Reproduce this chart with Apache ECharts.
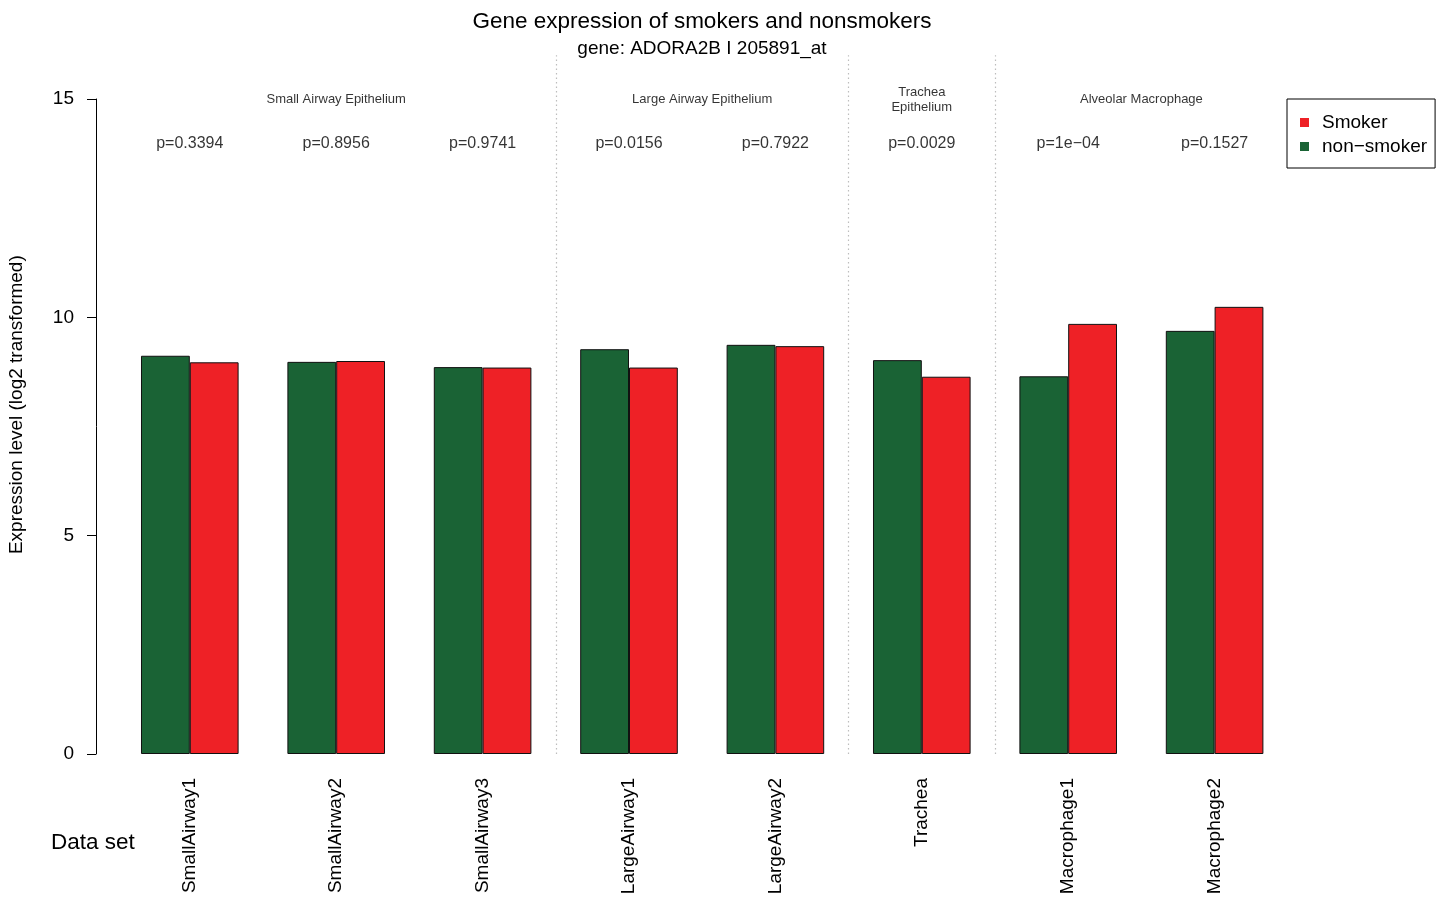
<!DOCTYPE html>
<html>
<head>
<meta charset="utf-8">
<title>Gene expression of smokers and nonsmokers</title>
<script src="https://cdn.jsdelivr.net/npm/echarts@6/dist/echarts.min.js"></script>
<style>
  html, body { margin: 0; padding: 0; background: #fff; }
  #chart { width: 1443px; height: 897px; }
</style>
</head>
<body>
<div id="chart"></div>
<script>
// ---- data ----
const datasets = ['SmallAirway1', 'SmallAirway2', 'SmallAirway3', 'LargeAirway1',
                  'LargeAirway2', 'Trachea', 'Macrophage1', 'Macrophage2'];
const nonSmoker = [9.12, 8.98, 8.86, 9.27, 9.37, 9.02, 8.65, 9.69];
const smoker    = [8.97, 9.00, 8.85, 8.85, 9.34, 8.64, 9.85, 10.24];
const pValues   = ['p=0.3394', 'p=0.8956', 'p=0.9741', 'p=0.0156',
                   'p=0.7922', 'p=0.0029', 'p=1e\u221204', 'p=0.1527'];
const tissueNames = ['Small Airway Epithelium', 'Large Airway Epithelium',
                     'Trachea\nEpithelium', 'Alveolar Macrophage'];
const tissueSizes = [3, 2, 1, 2];
const yTicks = { min: 0, max: 15, step: 5 };

const SMOKER = 'Smoker';
const NON_SMOKER = 'non\u2212smoker';
const FONT = '"Liberation Sans", Arial, Helvetica, sans-serif';

// ---- layout (pixels) ----
const PLOT_LEFT = 116.6;          // left edge of the first category band
const BAND = 146.4;               // width of one category band
const PLOT_W = BAND * datasets.length;
const Y0 = 754;                   // pixel row of value 0
const UNIT = 655 / 15;            // pixels per expression unit
const AXIS_X = 96;                // where the y axis line sits
const OVER_MAX = 16;              // annotation grid runs 0..16 in the same units

// Tissue group centres and boundaries on a 0..n category scale
const tissueCenters = [];
const tissueBounds = [];
let acc = 0;
tissueSizes.forEach((n, i) => {
  tissueCenters.push(acc + n / 2);
  acc += n;
  if (i < tissueSizes.length - 1) tissueBounds.push(acc);
});

const TISSUE_ROW = 14.98;
const PVALUE_ROW = 13.99;

const chart = echarts.init(document.getElementById('chart'), null, { renderer: 'canvas' });

const option = {
  backgroundColor: '#fff',
  animation: false,
  textStyle: { fontFamily: FONT, color: '#000' },
  title: [
    {
      text: 'Gene expression of smokers and nonsmokers',
      left: 702, top: 10, textAlign: 'center', padding: 0,
      textStyle: { fontFamily: FONT, fontSize: 22.5, fontWeight: 'normal', color: '#000', lineHeight: 24 }
    },
    {
      text: 'gene: ADORA2B I 205891_at',
      left: 702, top: 39, textAlign: 'center', padding: 0,
      textStyle: { fontFamily: FONT, fontSize: 19, fontWeight: 'normal', color: '#000', lineHeight: 20 }
    },
    {
      text: 'Data set',
      left: 51, top: 831, padding: 0,
      textStyle: { fontFamily: FONT, fontSize: 22.5, fontWeight: 'normal', color: '#000', lineHeight: 24 }
    }
  ],
  legend: {
    data: [SMOKER, NON_SMOKER],
    orient: 'vertical',
    left: 1287, top: 99,
    padding: [14, 8, 12, 13],
    itemGap: 5,
    itemWidth: 9, itemHeight: 9,
    icon: 'rect',
    borderColor: '#000', borderWidth: 1, borderRadius: 0,
    backgroundColor: '#fff',
    itemStyle: { borderWidth: 0 },
    textStyle: { fontFamily: FONT, fontSize: 19, color: '#000', lineHeight: 19, padding: [0, 0, 0, 8] },
    selectedMode: false
  },
  grid: [
    { left: PLOT_LEFT, top: Y0 - 15 * UNIT, width: PLOT_W, height: 15 * UNIT,
      containLabel: false, outerBoundsMode: 'none' },
    { left: PLOT_LEFT, top: Y0 - OVER_MAX * UNIT, width: PLOT_W, height: OVER_MAX * UNIT,
      containLabel: false, outerBoundsMode: 'none' }
  ],
  xAxis: [
    {
      type: 'category', gridIndex: 0, data: datasets,
      axisLine: { show: false }, axisTick: { show: false },
      axisLabel: { rotate: 90, margin: 24, fontFamily: FONT, fontSize: 19, color: '#000', interval: 0,
                   padding: [0, 0, 0, 2] }
    },
    { type: 'value', gridIndex: 1, min: 0, max: datasets.length, show: false }
  ],
  yAxis: [
    {
      type: 'value', gridIndex: 0, min: yTicks.min, max: yTicks.max, interval: yTicks.step,
      offset: PLOT_LEFT - AXIS_X,
      axisLine: { show: true, lineStyle: { color: '#000', width: 1 } },
      axisTick: { show: true, length: 9, lineStyle: { color: '#000', width: 1 } },
      axisLabel: { margin: 22, fontFamily: FONT, fontSize: 19, color: '#000', padding: [4, 0, 0, 0] },
      splitLine: { show: false }
    },
    {
      type: 'value', gridIndex: 1, min: 0, max: OVER_MAX,
      offset: PLOT_LEFT - AXIS_X,
      name: 'Expression level (log2 transformed)',
      nameLocation: 'middle', nameGap: 70, nameRotate: 90,
      nameTextStyle: { fontFamily: FONT, fontSize: 19, color: '#000' },
      axisLine: { show: false }, axisTick: { show: false },
      axisLabel: { show: false }, splitLine: { show: false }
    }
  ],
  series: [
    {
      name: NON_SMOKER, type: 'bar', xAxisIndex: 0, yAxisIndex: 0,
      data: nonSmoker, barGap: '0%', barCategoryGap: '33.333%',
      itemStyle: { color: '#1a6335', borderColor: '#111', borderWidth: 1 }
    },
    {
      name: SMOKER, type: 'bar', xAxisIndex: 0, yAxisIndex: 0,
      data: smoker, barGap: '0%', barCategoryGap: '33.333%',
      itemStyle: { color: '#ee2126', borderColor: '#111', borderWidth: 1 }
    },
    {
      // dotted separators between tissue groups
      type: 'scatter', xAxisIndex: 1, yAxisIndex: 1, data: [], silent: true,
      markLine: {
        silent: true, symbol: ['none', 'none'], label: { show: false },
        lineStyle: { color: '#bdbdbd', type: [1.5, 3], width: 1.2 },
        data: tissueBounds.map(b => ({ xAxis: b }))
      }
    },
    {
      // tissue names above the groups
      type: 'scatter', xAxisIndex: 1, yAxisIndex: 1, silent: true, symbolSize: 0,
      data: tissueCenters.map((c, i) => ({ value: [c, TISSUE_ROW], name: tissueNames[i] })),
      label: {
        show: true, position: 'inside', formatter: p => p.name,
        fontFamily: FONT, fontSize: 13, color: '#000', lineHeight: 15,
        align: 'center', verticalAlign: 'middle'
      }
    },
    {
      // p-values above each data set
      type: 'scatter', xAxisIndex: 1, yAxisIndex: 1, silent: true, symbolSize: 0,
      data: pValues.map((p, i) => ({ value: [i + 0.5, PVALUE_ROW], name: p })),
      label: {
        show: true, position: 'inside', formatter: p => p.name,
        fontFamily: FONT, fontSize: 16, color: '#000',
        align: 'center', verticalAlign: 'middle'
      }
    }
  ]
};

chart.setOption(option);
</script>
</body>
</html>
